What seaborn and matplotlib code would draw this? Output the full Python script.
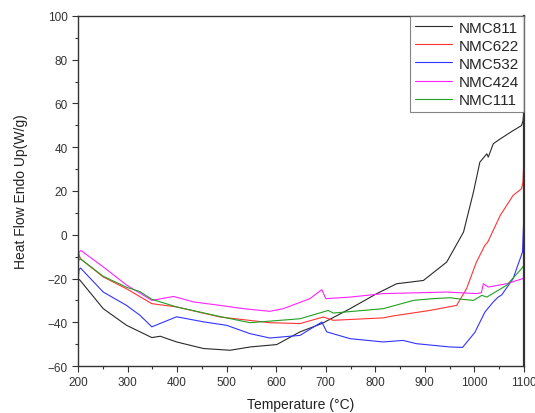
import pandas as pd
import matplotlib
matplotlib.use('Agg')
import matplotlib.pyplot as plt
import seaborn as sns
from matplotlib.ticker import MultipleLocator

# DSC curves (temperature in degC, heat flow in W/g)
t_811 = [200, 203, 251, 298, 349, 366, 399, 453, 507, 547, 601, 648, 692, 749, 803, 843, 897, 944,
         978, 998, 1011, 1025, 1028, 1038, 1052, 1078, 1095, 1098, 1100]
h_811 = [-21, -20.5, -33.8, -41.4, -47, -46.4, -49, -52, -52.8, -51.3, -50.2, -44.4, -40.6, -33.8, -26.9,
         -22.4, -20.9, -12.5, 1.2, 19.5, 33.2, 37, 35.5, 41.6, 43.8, 47.6, 49.9, 52, 57]

t_622 = [200, 202, 205, 251, 298, 349, 399, 487, 587, 648, 695, 715, 816, 836, 910, 964, 984, 1004,
         1021, 1027, 1052, 1078, 1095, 1098, 1100]
h_622 = [-15, -9, -11, -19.3, -24.7, -31.5, -33, -37.6, -40.2, -40.6, -37.6, -39.1, -38, -37.1, -34.6,
         -32.3, -24.7, -12.5, -4.9, -3.3, 8.8, 18, 21, 24, 36]

t_532 = [200, 202, 205, 251, 298, 325, 349, 399, 453, 500, 547, 587, 648, 692, 702, 749, 816, 856,
         883, 951, 976, 1001, 1021, 1038, 1048, 1055, 1078, 1097, 1100]
h_532 = [-22, -16, -15.2, -26.2, -32.3, -36.8, -42.1, -37.5, -39.8, -41.4, -45.2, -47.2, -46, -39.9,
         -44.4, -47.5, -49, -48.3, -49.8, -51.3, -51.5, -44.6, -35.4, -30.7, -28.5, -27.5, -20.1, -7.9, 10]

t_424 = [200, 202, 206, 251, 298, 349, 393, 433, 487, 534, 587, 614, 668, 692, 700, 749, 816, 944,
         1004, 1014, 1018, 1028, 1065, 1097, 1100]
h_424 = [-12, -8, -7.2, -14.7, -23, -30, -28.2, -30.7, -32.3, -33.8, -35, -33.8, -29.2, -25.1, -29.2,
         -28.5, -26.9, -26.2, -26.9, -26.5, -22.4, -23.9, -22.4, -20.1, -19.5]

t_111 = [200, 205, 251, 298, 325, 349, 399, 487, 547, 648, 705, 715, 816, 877, 917, 951, 975, 998,
         1015, 1025, 1065, 1095, 1100]
h_111 = [-12, -11, -19, -24, -26, -29.5, -33, -37.4, -40.2, -38.4, -34.6, -35.8, -33.8, -30, -29.2,
         -28.8, -29.5, -30, -27.7, -28.5, -23.1, -15.5, -14]

series = {
    'NMC811': (t_811, h_811),
    'NMC622': (t_622, h_622),
    'NMC532': (t_532, h_532),
    'NMC424': (t_424, h_424),
    'NMC111': (t_111, h_111),
}
colors = {'NMC811': '#2a2a2a', 'NMC622': '#ff3333', 'NMC532': '#3333ff',
          'NMC424': '#ff22ff', 'NMC111': '#22a022'}

frames = []
for name, (t, h) in series.items():
    frames.append(pd.DataFrame({'Temperature': t, 'HeatFlow': h, 'Sample': name}))
df = pd.concat(frames, ignore_index=True)

sns.set_style('ticks')
plt.rcParams['font.family'] = ['Liberation Sans', 'DejaVu Sans']

fig = plt.figure(figsize=(5.35, 4.14), dpi=100)
ax = fig.add_axes([0.1458, 0.1135, 0.8336, 0.8455])

sns.lineplot(data=df, x='Temperature', y='HeatFlow', hue='Sample', palette=colors,
             estimator=None, sort=False, linewidth=0.8, ax=ax)

ax.set_xlim(200, 1100)
ax.set_ylim(-60, 100)
ax.xaxis.set_major_locator(MultipleLocator(100))
ax.xaxis.set_minor_locator(MultipleLocator(50))
ax.yaxis.set_major_locator(MultipleLocator(20))
ax.yaxis.set_minor_locator(MultipleLocator(10))
ax.tick_params(which='major', direction='out', length=4, width=0.8, labelsize=8.5, colors='#333333')
ax.tick_params(which='minor', direction='out', length=2.5, width=0.8, colors='#333333')
for side in ['left', 'bottom', 'top', 'right']:
    ax.spines[side].set_visible(True)
    ax.spines[side].set_color('#333333')
    ax.spines[side].set_linewidth(1.0)
ax.spines['right'].set_linewidth(1.6)

ax.set_xlabel('Temperature (°C)', fontsize=10, color='#222222', labelpad=6)
ax.set_ylabel('Heat Flow Endo Up(W/g)', fontsize=10, color='#222222', labelpad=14)

leg = ax.legend(loc='upper right', fontsize=11, frameon=True, fancybox=False, borderaxespad=0,
                handlelength=2.4, handletextpad=0.5, labelspacing=0.27, borderpad=0.3)
leg.get_frame().set_edgecolor('#666666')
leg.get_frame().set_linewidth(0.8)
for line in leg.get_lines():
    line.set_linewidth(0.8)

plt.savefig('out.png', dpi=100)
